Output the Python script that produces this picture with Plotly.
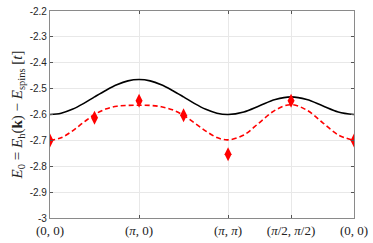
import numpy as np
import plotly.graph_objects as go

PI = np.pi
D = PI / np.sqrt(2)  # length of each diagonal segment

# Path positions of high-symmetry points
tick_pos = [0, PI, 2 * PI, 2 * PI + D, 2 * PI + 2 * D]
tick_labels = ["(0, 0)", "(<i>π</i>, 0)", "(<i>π</i>, <i>π</i>)",
               "(<i>π</i>/2, <i>π</i>/2)", "(0, 0)"]

# Curve sample positions along path (fractions of each segment)
fr8 = [i / 8 for i in range(9)]
fr4 = [i / 4 for i in range(5)]
x_curve = ([PI * f for f in fr8] +
           [PI + PI * f for f in fr8[1:]] +
           [2 * PI + D * f for f in fr4[1:]] +
           [2 * PI + D + D * f for f in fr4[1:]])

# Black solid curve
black_vals = [-2.600, -2.595, -2.580, -2.558, -2.532, -2.507, -2.485, -2.470, -2.465,
              -2.470, -2.485, -2.507, -2.532, -2.558, -2.580, -2.595, -2.600,
              -2.590, -2.566, -2.542, -2.532,
              -2.542, -2.566, -2.590, -2.600]

# Red dashed curve
red_vals = [-2.700, -2.690, -2.664, -2.631, -2.600, -2.579, -2.568, -2.565, -2.564,
            -2.565, -2.570, -2.582, -2.603, -2.633, -2.664, -2.689, -2.698,
            -2.679, -2.631, -2.583, -2.562,
            -2.583, -2.631, -2.679, -2.700]

# Red diamond markers
marker_x = [0, PI / 2, PI, 1.5 * PI, 2 * PI, 2 * PI + D, 2 * PI + 2 * D]
marker_y = [-2.700, -2.613, -2.547, -2.603, -2.754, -2.547, -2.700]

fig = go.Figure()
fig.add_trace(go.Scatter(x=x_curve, y=black_vals, mode="lines",
                         line=dict(color="black", width=1.6, shape="spline"),
                         showlegend=False))
fig.add_trace(go.Scatter(x=x_curve, y=red_vals, mode="lines",
                         line=dict(color="#ff0000", width=1.6, dash="5px,3px", shape="spline"),
                         showlegend=False))
fig.add_trace(go.Scatter(x=marker_x, y=marker_y, mode="markers",
                         marker=dict(symbol="diamond-tall", size=10, color="#ff0000",
                                     line=dict(width=0)),
                         showlegend=False))

axis_common = dict(showline=True, linecolor="#8a8a8a", linewidth=1.2, mirror="ticks",
                   ticks="inside", ticklen=3, tickcolor="#555555", tickwidth=1,
                   showgrid=True, gridcolor="#e8e8e8", gridwidth=1, zeroline=False,
                   ticklabeloverflow="allow")

fig.update_xaxes(range=[0, 2 * PI + 2 * D], tickvals=tick_pos, ticktext=tick_labels,
                 tickfont=dict(family="Liberation Serif, serif", size=13, color="#222222"),
                 **axis_common)
fig.update_yaxes(range=[-3, -2.2], tickvals=[-3, -2.9, -2.8, -2.7, -2.6, -2.5, -2.4, -2.3, -2.2],
                 ticktext=["-3", "-2.9", "-2.8", "-2.7", "-2.6", "-2.5", "-2.4", "-2.3", "-2.2"],
                 tickfont=dict(family="Liberation Sans, Arial, sans-serif", size=10, color="#262626"),
                 title=dict(text="<i>E</i><sub>0</sub> = <i>E</i><sub>h</sub>(<b>k</b>) − <i>E</i><sub>spins</sub> [<i>t</i>]",
                            font=dict(family="Liberation Serif, serif", size=15, color="#222222"),
                            standoff=3),
                 **axis_common)

fig.update_layout(width=373, height=243, margin=dict(l=50, r=13, t=5, b=24),
                  plot_bgcolor="white", paper_bgcolor="white")

fig.write_html("out.html", config={"displayModeBar": False},
               post_script="document.body.style.margin='0';document.body.style.padding='0';")
